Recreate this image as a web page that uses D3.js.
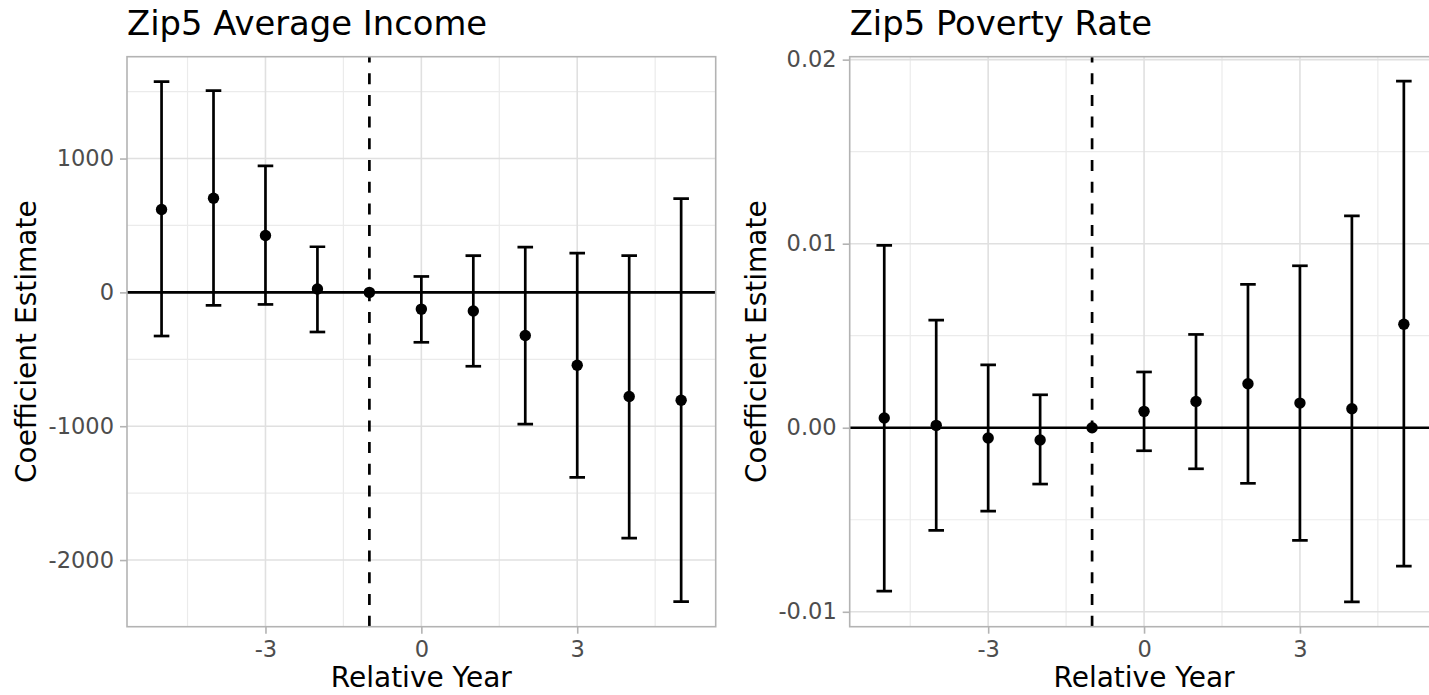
<!DOCTYPE html>
<html>
<head>
<meta charset="utf-8">
<script src="https://cdn.jsdelivr.net/npm/d3@7"></script>
<style>
  body { margin: 0; background: #fff; }
  svg { display: block; font-family: "DejaVu Sans", sans-serif; }
</style>
</head>
<body>
<svg id="chart" width="1429" height="695"></svg>
<script>
// relative years
const years = [-5, -4, -3, -2, -1, 0, 1, 2, 3, 4, 5];

// Zip5 average income
const incomeEst   = [619, 704, 425, 25, 0, -125, -139, -322, -545, -778, -806];
const incomeLower = [-326, -97, -90, -296, 0, -373, -552, -984, -1383, -1836, -2311];
const incomeUpper = [1575, 1507, 945, 341, 0, 119, 274, 338, 293, 274, 701];

// Zip5 poverty rate
const povertyEst   = [0.00053, 0.00013, -0.00056, -0.00067, 0, 0.00089, 0.00143, 0.00239, 0.00134, 0.00103, 0.00562];
const povertyLower = [-0.00888, -0.00558, -0.00453, -0.00306, 0, -0.00125, -0.00223, -0.00302, -0.00612, -0.00946, -0.00752];
const povertyUpper = [0.00991, 0.00585, 0.00342, 0.00179, 0, 0.00303, 0.00507, 0.00779, 0.0088, 0.01151, 0.01883];

const xTicks = [-3, 0, 3];
const xMinor = [-4.5, -1.5, 1.5, 4.5];
const incomeTicks = [-2000, -1000, 0, 1000];
const incomeMinor = [-1500, -500, 500, 1500];
const povertyTicks = [-0.01, 0, 0.01, 0.02];
const povertyMinor = [-0.005, 0.005, 0.015];

const svg = d3.select('#chart');
const hyphen = f => d => f(d).replace('\u2212', '-');

function drawPanel(opts) {
  const { left, title, est, lower, upper, yDomain, ticks, minor, fmt, yTitleX } = opts;
  const top = 56.7, bottom = 626.7, width = 588.7;

  const x = d3.scaleLinear().domain([-5.665, 5.665]).range([left, left + width]);
  const y = d3.scaleLinear().domain(yDomain).range([bottom, top]);

  const g = svg.append('g');
  const clipId = 'clip' + Math.round(left);
  g.append('clipPath').attr('id', clipId)
    .append('rect').attr('x', left).attr('y', top).attr('width', width).attr('height', bottom - top);

  const plot = g.append('g').attr('clip-path', `url(#${clipId})`);

  // grid
  plot.selectAll('.minx').data(xMinor).join('line')
    .attr('x1', d => x(d)).attr('x2', d => x(d)).attr('y1', top).attr('y2', bottom)
    .attr('stroke', '#ebebeb').attr('stroke-width', 1.2);
  plot.selectAll('.miny').data(minor).join('line')
    .attr('y1', d => y(d)).attr('y2', d => y(d)).attr('x1', left).attr('x2', left + width)
    .attr('stroke', '#ebebeb').attr('stroke-width', 1.2);
  plot.selectAll('.majx').data(xTicks).join('line')
    .attr('x1', d => x(d)).attr('x2', d => x(d)).attr('y1', top).attr('y2', bottom)
    .attr('stroke', '#e0e0e0').attr('stroke-width', 1.6);
  plot.selectAll('.majy').data(ticks).join('line')
    .attr('y1', d => y(d)).attr('y2', d => y(d)).attr('x1', left).attr('x2', left + width)
    .attr('stroke', '#e0e0e0').attr('stroke-width', 1.6);

  // reference lines
  plot.append('line')
    .attr('x1', left).attr('x2', left + width).attr('y1', y(0)).attr('y2', y(0))
    .attr('stroke', '#000').attr('stroke-width', 2.7);
  plot.append('line')
    .attr('x1', x(-1)).attr('x2', x(-1)).attr('y1', bottom).attr('y2', top)
    .attr('stroke', '#000').attr('stroke-width', 2.7)
    .attr('stroke-dasharray', '11,10.7');

  // error bars
  const rows = years.map((yr, i) => ({ yr, est: est[i], lo: lower[i], hi: upper[i] }))
    .filter(d => d.lo !== d.hi);
  const capW = 0.15;
  const eb = plot.append('g').attr('stroke', '#000').attr('stroke-width', 2.7).attr('fill', 'none');
  eb.selectAll('.v').data(rows).join('line')
    .attr('x1', d => x(d.yr)).attr('x2', d => x(d.yr))
    .attr('y1', d => y(d.lo)).attr('y2', d => y(d.hi));
  eb.selectAll('.lo').data(rows).join('line')
    .attr('x1', d => x(d.yr - capW)).attr('x2', d => x(d.yr + capW))
    .attr('y1', d => y(d.lo)).attr('y2', d => y(d.lo));
  eb.selectAll('.hi').data(rows).join('line')
    .attr('x1', d => x(d.yr - capW)).attr('x2', d => x(d.yr + capW))
    .attr('y1', d => y(d.hi)).attr('y2', d => y(d.hi));

  // points
  plot.selectAll('circle').data(years).join('circle')
    .attr('cx', d => x(d)).attr('cy', (d, i) => y(est[i])).attr('r', 5.7)
    .attr('fill', '#000');

  // border
  g.append('rect')
    .attr('x', left).attr('y', top).attr('width', width).attr('height', bottom - top)
    .attr('fill', 'none').attr('stroke', '#b3b3b3').attr('stroke-width', 1.6);

  // axes
  const xAxis = g.append('g').attr('transform', `translate(0,${bottom})`)
    .call(d3.axisBottom(x).tickValues(xTicks).tickSize(7).tickPadding(7).tickFormat(hyphen(d3.format('d'))));
  const yAxis = g.append('g').attr('transform', `translate(${left},0)`)
    .call(d3.axisLeft(y).tickValues(ticks).tickSize(7).tickPadding(6).tickFormat(fmt));
  [xAxis, yAxis].forEach(a => {
    a.select('.domain').remove();
    a.selectAll('.tick line').attr('stroke', '#b3b3b3').attr('stroke-width', 1.6);
    a.selectAll('.tick text').attr('fill', '#4d4d4d').attr('font-size', 22.5)
      .attr('font-family', '"DejaVu Sans", sans-serif');
  });

  // titles
  g.append('text').attr('x', left).attr('y', 35)
    .attr('font-size', 33.8).attr('fill', '#000').text(title);
  g.append('text').attr('x', left + width / 2).attr('y', 686.5)
    .attr('text-anchor', 'middle').attr('font-size', 28).attr('fill', '#000')
    .text('Relative Year');
  g.append('text')
    .attr('transform', `translate(${yTitleX},${(top + bottom) / 2}) rotate(-90)`)
    .attr('text-anchor', 'middle').attr('font-size', 28).attr('fill', '#000')
    .text('Coefficient Estimate');
}

drawPanel({
  left: 127, title: 'Zip5 Average Income',
  est: incomeEst, lower: incomeLower, upper: incomeUpper,
  yDomain: [-2498, 1761], ticks: incomeTicks, minor: incomeMinor,
  fmt: hyphen(d3.format('d')), yTitleX: 35.5
});

drawPanel({
  left: 849.7, title: 'Zip5 Poverty Rate',
  est: povertyEst, lower: povertyLower, upper: povertyUpper,
  yDomain: [-0.01081, 0.02016], ticks: povertyTicks, minor: povertyMinor,
  fmt: hyphen(d3.format('.2f')), yTitleX: 766
});
</script>
</body>
</html>
